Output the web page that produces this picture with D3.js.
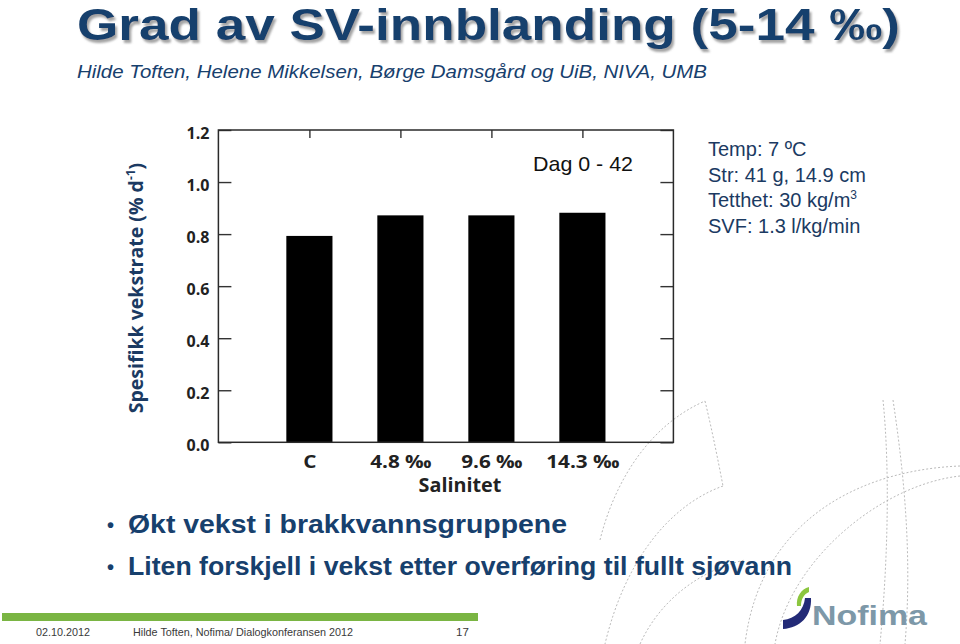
<!DOCTYPE html>
<html>
<head>
<meta charset="utf-8">
<script src="https://cdn.jsdelivr.net/npm/d3@7"></script>
<style>
  html, body { margin: 0; padding: 0; background: #fff; }
  svg { display: block; }
</style>
</head>
<body>
<svg id="chart" width="960" height="644"></svg>
<script>
// ---------- data ----------
const categories = ["C", "4.8 ‰", "9.6 ‰", "14.3 ‰"];
const growthValues = [0.793, 0.872, 0.872, 0.882];
const yTickValues = [0.0, 0.2, 0.4, 0.6, 0.8, 1.0, 1.2];
const yTickLabels = ["0.0", "0.2", "0.4", "0.6", "0.8", "1.0", "1.2"];
const infoLines = ["Temp: 7 ºC", "Str: 41 g, 14.9 cm", "Tetthet: 30 kg/m", "SVF: 1.3 l/kg/min"];
const bullets = ["Økt vekst i brakkvannsgruppene", "Liten forskjell i vekst etter overføring til fullt sjøvann"];
const titleText = "Grad av SV-innblanding (5-14 ‰)";
const subtitleText = "Hilde Toften, Helene Mikkelsen, Børge Damsgård og UiB, NIVA, UMB";
const periodLabel = "Dag 0 - 42";
const xTitle = "Salinitet";
const footerDate = "02.10.2012";
const footerText = "Hilde Toften, Nofima/ Dialogkonferansen 2012";
const footerPage = "17";

// ---------- setup ----------
const svg = d3.select("#chart");
const navy = "#17406d";
const navyDark = "#1b3a62";
const sans = "'Liberation Sans', Arial, sans-serif";
const calib = "'Open Sans', 'Noto Sans', sans-serif";

function stretch(sel, k) {
  sel.each(function () {
    const w = this.getComputedTextLength();
    d3.select(this).attr("textLength", w * k).attr("lengthAdjust", "spacingAndGlyphs");
  });
}

const defs = svg.append("defs");
const f = defs.append("filter").attr("id", "shadow").attr("x", "-5%").attr("y", "-20%").attr("width", "110%").attr("height", "150%");
f.append("feDropShadow").attr("dx", 2).attr("dy", 3).attr("stdDeviation", 1.2).attr("flood-color", "#8c8c8c").attr("flood-opacity", 0.8);

// decorative dashed arcs (background)
const deco = svg.append("g").attr("fill", "none").attr("stroke", "#a8a8a8")
  .attr("stroke-width", 0.8).attr("stroke-dasharray", "2,2");
function curve(x0, y0, c1x, c1y, c2x, c2y, x1, y1) {
  const p = d3.path(); p.moveTo(x0, y0); p.bezierCurveTo(c1x, c1y, c2x, c2y, x1, y1); return p.toString();
}
[
  curve(600, 540, 615, 480, 650, 425, 705, 401),
  curve(705, 401, 712, 430, 718, 460, 723, 486),
  curve(723, 486, 670, 505, 625, 560, 605, 644),
  curve(960, 466, 860, 470, 760, 520, 745, 644),
  curve(960, 476, 880, 485, 790, 560, 775, 644),
  curve(883, 400, 890, 470, 888, 560, 880, 644),
  curve(893, 400, 905, 480, 912, 560, 905, 644),
  curve(640, 644, 660, 600, 700, 570, 745, 560)
].forEach(d => deco.append("path").attr("d", d));

// ---------- title ----------
svg.append("text")
  .attr("x", 77).attr("y", 40)
  .attr("font-family", sans).attr("font-weight", "bold").attr("font-size", 44)
  .attr("fill", navy).attr("filter", "url(#shadow)")
  .attr("textLength", 823).attr("lengthAdjust", "spacingAndGlyphs")
  .text(titleText);

svg.append("text")
  .attr("x", 77).attr("y", 78)
  .attr("font-family", sans).attr("font-style", "italic").attr("font-size", 18)
  .attr("fill", navy)
  .attr("textLength", 630).attr("lengthAdjust", "spacingAndGlyphs")
  .text(subtitleText);

// ---------- chart ----------
const frame = { left: 218.4, right: 673.4, top: 130, bottom: 442.3 };
const x = d3.scalePoint().domain(categories).range([frame.left, frame.right]).padding(1);
const y = d3.scaleLinear().domain([0, 1.2]).range([frame.bottom, frame.top]);
const barW = x.step() * 0.507;

const chart = svg.append("g");

chart.selectAll("rect.bar")
  .data(categories.map((c, i) => ({ c, v: growthValues[i] })))
  .join("rect").attr("class", "bar")
  .attr("x", d => x(d.c) - barW / 2)
  .attr("width", barW)
  .attr("y", d => y(d.v))
  .attr("height", d => y(0) - y(d.v))
  .attr("fill", "#000");

// inward ticks
const yLeft = chart.append("g").attr("transform", `translate(${frame.left},0)`)
  .call(d3.axisLeft(y).tickValues(yTickValues).tickSize(-13).tickPadding(9)
    .tickFormat((d, i) => yTickLabels[i]));
const yRight = chart.append("g").attr("transform", `translate(${frame.right},0)`)
  .call(d3.axisRight(y).tickValues(yTickValues).tickSize(-13).tickFormat(""));
const xTop = chart.append("g").attr("transform", `translate(0,${frame.top})`)
  .call(d3.axisTop(x).tickSize(-8).tickFormat(""));
const xBottom = chart.append("g").attr("transform", `translate(0,${frame.bottom})`)
  .call(d3.axisBottom(x).tickSize(0).tickPadding(10));

[yLeft, yRight, xTop, xBottom].forEach(g => {
  g.select(".domain").remove();
  g.selectAll(".tick line").attr("stroke", "#333").attr("stroke-width", 1.4);
});
yLeft.selectAll(".tick text")
  .attr("font-family", calib).attr("font-weight", "bold").attr("font-size", 16)
  .attr("fill", "#222").attr("y", 3);
xBottom.selectAll(".tick text")
  .attr("font-family", calib).attr("font-weight", "bold").attr("font-size", 18)
  .attr("fill", "#222").attr("dy", "0.71em").attr("y", 12.5)
  .call(stretch, 1.15);

chart.append("rect")
  .attr("x", frame.left).attr("y", frame.top)
  .attr("width", frame.right - frame.left).attr("height", frame.bottom - frame.top)
  .attr("fill", "none").attr("stroke", "#2a2a2a").attr("stroke-width", 1.5);

chart.append("text")
  .attr("x", 460).attr("y", 492)
  .attr("text-anchor", "middle")
  .attr("font-family", calib).attr("font-weight", "bold").attr("font-size", 19)
  .attr("fill", "#222").text(xTitle)
  .call(stretch, 1.04);

const yt = chart.append("text")
  .attr("transform", "translate(143,288) rotate(-90)")
  .attr("text-anchor", "middle")
  .attr("font-family", calib).attr("font-weight", "bold").attr("font-size", 19.5)
  .attr("fill", navyDark);
yt.append("tspan").text("Spesifikk vekstrate (% d");
yt.append("tspan").attr("font-size", 12).attr("dy", -8).text("-1");
yt.append("tspan").attr("dy", 8).text(")");

chart.append("text")
  .attr("x", 533).attr("y", 171)
  .attr("font-family", sans).attr("font-size", 21).attr("fill", "#111")
  .attr("textLength", 100).attr("lengthAdjust", "spacingAndGlyphs")
  .text(periodLabel);

// ---------- info box ----------
const info = svg.append("g").attr("font-family", sans).attr("font-size", 20).attr("fill", navyDark);
infoLines.forEach((t, i) => {
  const tx = info.append("text").attr("x", 708).attr("y", 156 + i * 25.5);
  tx.append("tspan").text(t);
  if (i === 2) tx.append("tspan").attr("font-size", 12).attr("dy", -8).text("3");
});

// ---------- bullets ----------
const bl = svg.append("g").attr("font-family", sans).attr("font-weight", "bold").attr("font-size", 26).attr("fill", navy);
const bulletWidths = [439, 664];
bullets.forEach((t, i) => {
  const by = 533 + i * 42;
  bl.append("text").attr("x", 107).attr("y", by - 1).attr("font-size", 20).text("•");
  bl.append("text").attr("x", 128).attr("y", by)
    .attr("textLength", bulletWidths[i]).attr("lengthAdjust", "spacingAndGlyphs").text(t);
});

// ---------- footer ----------
svg.append("rect").attr("x", 2).attr("y", 613).attr("width", 476).attr("height", 8).attr("fill", "#7ab543");
const ft = svg.append("g").attr("font-family", sans).attr("font-size", 11.5).attr("fill", "#3a3a3a");
ft.append("text").attr("x", 36).attr("y", 636).attr("textLength", 54).attr("lengthAdjust", "spacingAndGlyphs").text(footerDate);
ft.append("text").attr("x", 133).attr("y", 636).attr("textLength", 220).attr("lengthAdjust", "spacingAndGlyphs").text(footerText);
ft.append("text").attr("x", 456).attr("y", 636).text(footerPage);

// ---------- logo ----------
const logo = svg.append("g");
logo.append("path").attr("fill", "#8cc63f")
  .attr("d", "M797,606 C796,597 801,589 809,587 L809,592 C804,594 801,599 801,606 Z");
logo.append("path").attr("fill", "#232a77")
  .attr("d", "M783,620 C795,619 804,610 805,598 L811,598 C812,616 800,628 783,629 Z");
logo.append("text").attr("x", 812).attr("y", 625)
  .attr("font-family", sans).attr("font-weight", "bold").attr("font-size", 28)
  .attr("fill", "#7d98a8").attr("textLength", 115).attr("lengthAdjust", "spacingAndGlyphs")
  .text("Nofima");
</script>
</body>
</html>
